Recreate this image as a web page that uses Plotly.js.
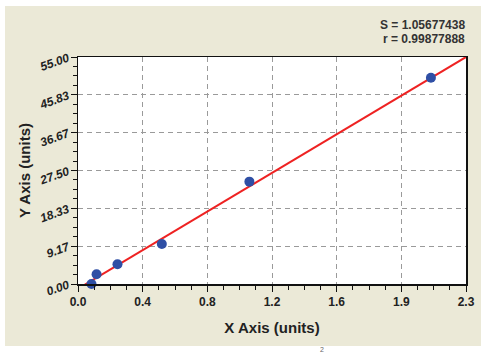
<!DOCTYPE html>
<html>
<head>
<meta charset="utf-8">
<script src="https://cdn.plot.ly/plotly-3.0.1.min.js"></script>
<style>
html,body{margin:0;padding:0;background:#fff;}
#chart{width:489px;height:355px;}
</style>
</head>
<body>
<div id="chart"></div>
<script>
// Data
const xPoints = [0.08, 0.11, 0.234, 0.497, 1.016, 2.092];
const yPoints = [0.0, 2.35, 4.77, 9.69, 24.8, 49.99];
const fitX = [0.031, 2.3];
const fitY = [-0.4, 55.0];
const xTickVals = [0, 2.3/6, 2*2.3/6, 3*2.3/6, 4*2.3/6, 5*2.3/6, 2.3];
const xTickText = ["0.0", "0.4", "0.8", "1.2", "1.6", "1.9", "2.3"];
const yTickVals = [0, 55/6, 2*55/6, 3*55/6, 4*55/6, 5*55/6, 55];
const yTickText = ["0.00", "9.17", "18.33", "27.50", "36.67", "45.83", "55.00"];
const statS = "S = 1.05677438";
const statR = "r = 0.99877888";

const W = 489, H = 355;
const ml = 78, mr = 23, mt = 57, mb = 71;
const pw = W - ml - mr, ph = H - mt - mb;
const px = p => (p - ml) / pw;
const py = p => (H - mb - p) / ph;

const beige = '#EBE9D7';
const font = 'Liberation Sans, Arial, sans-serif';

const traces = [
  {
    x: fitX, y: fitY, mode: 'lines', type: 'scatter',
    line: {color: '#EE2222', width: 2}, hoverinfo: 'skip', cliponaxis: true
  },
  {
    x: xPoints, y: yPoints, mode: 'markers', type: 'scatter',
    marker: {color: '#2F4FA5', size: 10, line: {width: 0}}, cliponaxis: false
  }
];

const layout = {
  width: W, height: H,
  margin: {l: ml, r: mr, t: mt, b: mb, pad: 0},
  paper_bgcolor: beige,
  plot_bgcolor: '#ffffff',
  showlegend: false,
  font: {family: font, color: '#222'},
  xaxis: {
    range: [0, 2.3], tickmode: 'array', tickvals: xTickVals, ticktext: xTickText,
    showline: true, linecolor: '#111', linewidth: 1.5, mirror: true,
    ticks: 'outside', ticklen: 6, tickwidth: 1, tickcolor: '#111',
    showgrid: true, gridcolor: '#9a9a9a', griddash: '5px,4px', gridwidth: 1,
    zeroline: false,
    tickfont: {family: font, size: 12, weight: 'bold', color: '#222'},
    minor: {tickmode: 'linear', tick0: 0, dtick: 2.3/24, ticks: 'outside', ticklen: 4, tickcolor: '#111', showgrid: false},
    title: {text: 'X Axis (units)', font: {family: font, size: 15, weight: 'bold', color: '#222'}, standoff: 14}
  },
  yaxis: {
    range: [0, 55], tickmode: 'array', tickvals: yTickVals, ticktext: yTickText,
    showline: true, linecolor: '#111', linewidth: 1.5, mirror: true,
    ticks: 'outside', ticklen: 6, tickwidth: 1, tickcolor: '#111',
    showgrid: true, gridcolor: '#9a9a9a', griddash: '5px,4px', gridwidth: 1,
    zeroline: false, tickangle: -20,
    tickfont: {family: font, size: 12, weight: 'bold', color: '#222', style: 'italic'},
    minor: {tickmode: 'linear', tick0: 0, dtick: 55/24, ticks: 'outside', ticklen: 4, tickcolor: '#111', showgrid: false},
    title: {text: 'Y Axis (units)', font: {family: font, size: 15, weight: 'bold', color: '#222'}, standoff: 3}
  },
  shapes: [
    {type: 'rect', xref: 'paper', yref: 'paper', x0: px(-5), x1: px(W+5), y0: py(6), y1: py(-5), fillcolor: '#fff', line: {width: 0}, layer: 'above'},
    {type: 'rect', xref: 'paper', yref: 'paper', x0: px(-5), x1: px(W+5), y0: py(H+5), y1: py(346), fillcolor: '#fff', line: {width: 0}, layer: 'above'},
    {type: 'rect', xref: 'paper', yref: 'paper', x0: px(-5), x1: px(5), y0: py(H+5), y1: py(-5), fillcolor: '#fff', line: {width: 0}, layer: 'above'},
    {type: 'rect', xref: 'paper', yref: 'paper', x0: px(481), x1: px(W+5), y0: py(H+5), y1: py(-5), fillcolor: '#fff', line: {width: 0}, layer: 'above'}
  ],
  annotations: [
    {xref: 'paper', yref: 'paper', x: px(467), y: py(25), xanchor: 'right', yanchor: 'middle', showarrow: false,
     text: statS, font: {family: font, size: 12, weight: 'bold', color: '#333'}},
    {xref: 'paper', yref: 'paper', x: px(467), y: py(39), xanchor: 'right', yanchor: 'middle', showarrow: false,
     text: statR, font: {family: font, size: 12, weight: 'bold', color: '#333'}},
    {xref: 'paper', yref: 'paper', x: px(322), y: py(349), xanchor: 'center', yanchor: 'middle', showarrow: false,
     text: '2', font: {family: font, size: 7, color: '#666'}}
  ]
};

Plotly.newPlot('chart', traces, layout, {displayModeBar: false, staticPlot: true});
</script>
</body>
</html>
